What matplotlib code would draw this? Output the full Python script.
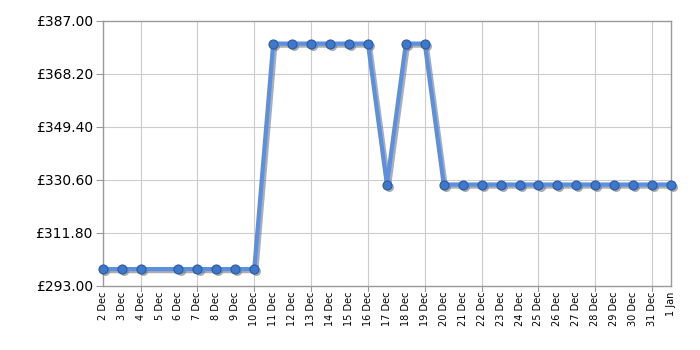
import numpy as np
import matplotlib
matplotlib.use("Agg")
import matplotlib.pyplot as plt
import matplotlib.transforms as mtransforms

day_labels = ["2 Dec", "3 Dec", "4 Dec", "5 Dec", "6 Dec", "7 Dec", "8 Dec", "9 Dec",
              "10 Dec", "11 Dec", "12 Dec", "13 Dec", "14 Dec", "15 Dec", "16 Dec",
              "17 Dec", "18 Dec", "19 Dec", "20 Dec", "21 Dec", "22 Dec", "23 Dec",
              "24 Dec", "25 Dec", "26 Dec", "27 Dec", "28 Dec", "29 Dec", "30 Dec",
              "31 Dec", "1 Jan"]
# 5 Dec has no price
prices = [298.99, 298.99, 298.99, np.nan, 298.99, 298.99, 298.99, 298.99,
          298.99, 378.99, 378.99, 378.99, 378.99, 378.99, 378.99,
          328.99, 378.99, 378.99, 328.99, 328.99, 328.99, 328.99,
          328.99, 328.99, 328.99, 328.99, 328.99, 328.99, 328.99,
          328.99, 328.99]
y_ticks = [293.00, 311.80, 330.60, 349.40, 368.20, 387.00]
grid_days = ["4 Dec", "7 Dec", "10 Dec", "13 Dec", "16 Dec", "19 Dec",
             "22 Dec", "25 Dec", "28 Dec", "31 Dec"]

x = np.arange(len(day_labels))
y = np.array(prices, dtype=float)
ok = ~np.isnan(y)

fig = plt.figure(figsize=(7, 3.5), dpi=100)
ax = fig.add_axes([0.1467, 0.183, 0.812, 0.757])

# drop shadow: same line, shifted down-right
shadow_tr = mtransforms.offset_copy(ax.transData, fig=fig, x=1.5, y=-1.5, units="points")
ax.plot(x[ok], y[ok], color="#777777", alpha=0.6, lw=3, marker="o", ms=6.5,
        mfc="#777777", mec="none", transform=shadow_tr, zorder=2, clip_on=False)
ax.plot(x[ok], y[ok], color="#5b8fdf", lw=3, marker="o", ms=6.5,
        mfc="#3d78cc", mec="#2a5a9e", mew=0.8, solid_joinstyle="round",
        zorder=3, clip_on=False)

ax.set_xlim(0, len(day_labels) - 1)
ax.set_ylim(y_ticks[0], y_ticks[-1])
ax.set_yticks(y_ticks)
ax.set_yticklabels([f"£{v:.2f}" for v in y_ticks], fontsize=10)

ax.set_xticks(x)
ax.set_xticklabels(day_labels, rotation=90, fontsize=7)
ax.tick_params(axis="x", length=0, pad=4)
ax.tick_params(axis="y", length=5, color="#999999", pad=2)

# vertical grid only at every third day
for d in grid_days:
    ax.axvline(day_labels.index(d), color="#cccccc", lw=0.8, zorder=1)
    ax.plot([day_labels.index(d)] * 2, [0, -0.018], transform=ax.get_xaxis_transform(),
            color="#999999", lw=0.8, clip_on=False)
for v in y_ticks[1:-1]:
    ax.axhline(v, color="#cccccc", lw=0.8, zorder=1)

for s in ax.spines.values():
    s.set_color("#999999")
    s.set_linewidth(1)

fig.savefig("out.png", dpi=100)
